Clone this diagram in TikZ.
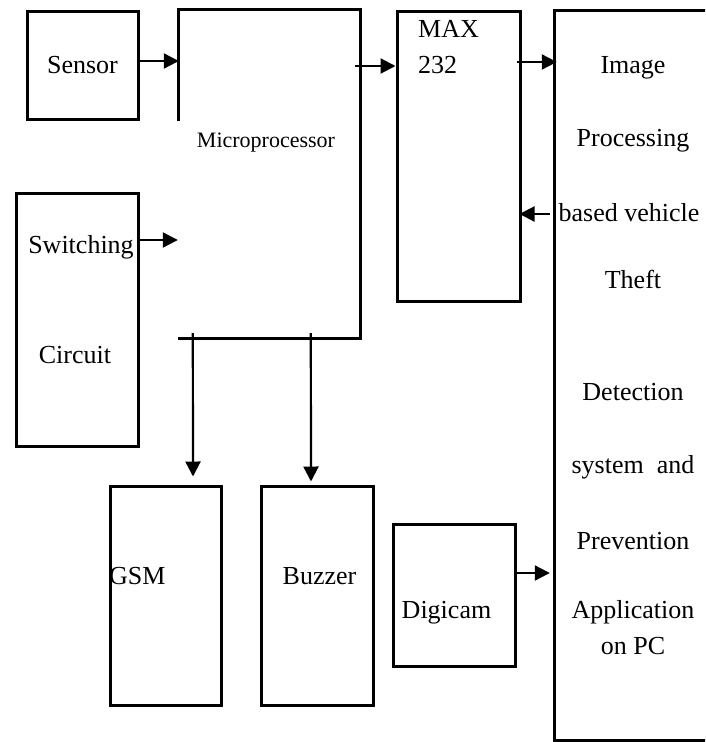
\documentclass[tikz,border=0pt]{standalone}
\usepackage{fontspec}
\setmainfont{Liberation Serif}
\usetikzlibrary{arrows.meta,calc}
\begin{document}
\begin{tikzpicture}[x=1pt,y=-1pt,
  blk/.style={draw=black,line width=3pt,rectangle,inner sep=0pt},
  hid/.style={draw=none,rectangle,inner sep=0pt},
  edge/.style={draw=black,line width=3pt},
  arr/.style={draw=black,line width=2.2pt,-{Triangle[length=15pt,width=15pt]}},
  txt/.style={inner sep=0pt,anchor=base,font=\fontsize{26pt}{30pt}\selectfont},
  txtw/.style={inner sep=0pt,anchor=base west,font=\fontsize{26pt}{30pt}\selectfont}]
\useasboundingbox (0,0) rectangle (705,742);
\begin{scope}
\clip (0,0) rectangle (705,742);
% boxes
\node[blk,minimum width=111pt,minimum height=108pt,font=\fontsize{26pt}{30pt}\selectfont] (sensor) at (82.5,65) {Sensor};
\node[blk,minimum width=122pt,minimum height=253pt] (switch) at (77,319.5) {};
\node[hid,minimum width=181pt,minimum height=328pt] (micro) at (269.5,174) {};
\node[blk,minimum width=123pt,minimum height=290pt] (max) at (458.5,156) {};
\node[hid,minimum width=171pt,minimum height=729pt] (pc) at (640.5,375.5) {};
\node[blk,minimum width=111pt,minimum height=219pt] (gsm) at (165.5,595.5) {};
\node[blk,minimum width=112pt,minimum height=219pt] (buzzer) at (317,595.5) {};
\node[blk,minimum width=122pt,minimum height=142pt] (digicam) at (454,595) {};
% open outlines
\draw[edge] (micro.west |- sensor.south) -- (micro.north west) -- (micro.north east) -- (micro.south east) -- ([xshift=-1pt]micro.south west);
\draw[edge] (pc.north east) -- (pc.north west) -- (pc.south west) -- (pc.south east);
% texts
\node[txt] (sw1) at (81,253) {Switching};
\node[txt] (sw2) at (75,363) {Circuit};
\node[inner sep=0pt,anchor=base,font=\fontsize{22pt}{26pt}\selectfont] (microtxt) at (266,147) {Microprocessor};
\node[txtw] (max1) at (418,37) {MAX};
\node[txtw] (max2) at (418,73) {232};
\node[txtw] (gsmtxt) at (109,584) {GSM};
\node[txt] (buzztxt) at (319.5,584) {Buzzer};
\node[txt] (digitxt) at (446.5,618) {Digicam};
\node[txt] (pc1) at (633,73) {Image};
\node[txt] (pc2) at (633,146) {Processing};
\node[txt] (pc3) at (629,221) {based vehicle};
\node[txt] (pc4) at (633,288) {Theft};
\node[txt] (pc5) at (633,400) {Detection};
\node[txt] (pc6) at (633,473) {system\ \ and};
\node[txt] (pc7) at (633,549) {Prevention};
\node[txt] (pc8) at (633,618) {Application};
\node[txt] (pc9) at (633,654) {on PC};
% connectors
\draw[arr] ([yshift=4pt]sensor.east) -- ([yshift=4pt]sensor.east -| micro.west);
\draw[arr] (switch.east |- 0,240) -- ([xshift=-1pt]micro.west |- 0,240);
\draw[arr] ([xshift=-5pt]micro.east |- 0,66) -- (max.west |- 0,66);
\draw[arr] ([xshift=-5pt]max.east |- 0,62) -- ([xshift=2pt]pc.west |- 0,62);
\draw[arr] ([xshift=-5pt]pc.west |- 0,214) -- ([xshift=-2pt]max.east |- 0,214);
\draw[arr] (digicam.east |- 0,573) -- ([xshift=-5pt]pc.west |- 0,573);
\draw[arr] ($(micro.south west)+(14,-5)$) -- ($(gsm.north)+(27.5,-8)$);
\draw[arr] ($(micro.south west)+(132,-5)$) -- ($(buzzer.north)+(-6,-3)$);
\end{scope}
\end{tikzpicture}
\end{document}
